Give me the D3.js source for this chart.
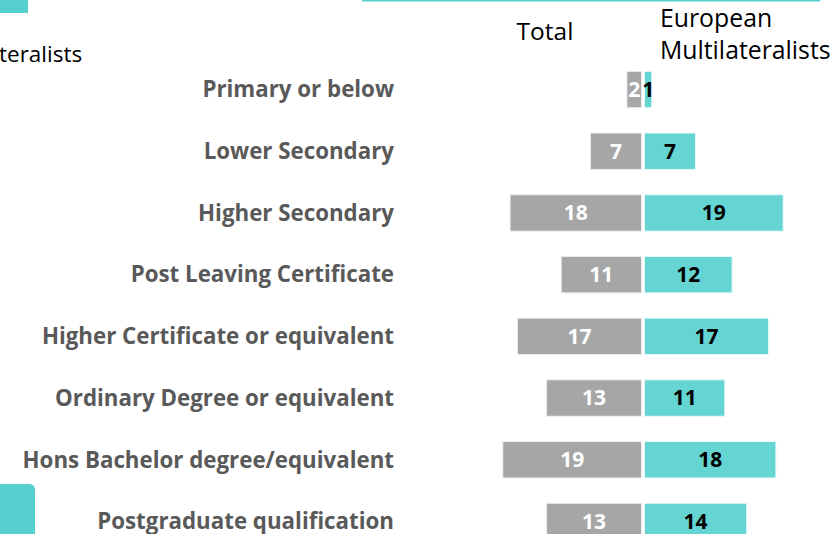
<!DOCTYPE html>
<html>
<head>
<meta charset="utf-8">
<script src="https://cdn.jsdelivr.net/npm/d3@7"></script>
<style>
  body { margin: 0; background: #fff; }
  svg { display: block; font-family: "Open Sans", Lato, sans-serif; }
</style>
</head>
<body>
<div id="chart"></div>
<script>
// Kategorien und Werte (in %)
const categories = [
  "Primary or below",
  "Lower Secondary",
  "Higher Secondary",
  "Post Leaving Certificate",
  "Higher Certificate or equivalent",
  "Ordinary Degree or equivalent",
  "Hons Bachelor degree/equivalent",
  "Postgraduate qualification"
];
const totalValues = [2, 7, 18, 11, 17, 13, 19, 13];
const euroValues = [1, 7, 19, 12, 17, 11, 18, 14];
const seriesNames = ["Total", "European Multilateralists"];

const width = 835, height = 534;
const grey = "#a6a6a6", teal = "#65d5d3";

const svg = d3.select("#chart").append("svg")
  .attr("width", width).attr("height", height);

// Reste vom Folienrand (abgeschnittene Elemente)
svg.append("rect").attr("x", -2).attr("y", -2).attr("width", 30).attr("height", 15)
  .attr("fill", "#56cfcf");
svg.append("path")
  .attr("d", "M0,484 H29 Q35,484 35,490 V540 H0 Z")
  .attr("fill", "#56cfcf");
svg.append("line").attr("x1", 362).attr("x2", 820).attr("y1", 0.5).attr("y2", 0.5)
  .attr("stroke", "#56cfcf").attr("stroke-width", 2);
svg.append("text").attr("x", -1).attr("y", 62)
  .attr("font-size", 22.5).attr("fill", "#000")
  .text("teralists");

// Skalen
const y = d3.scaleBand().domain(categories).range([59, 552]).paddingInner(0.41).paddingOuter(0.2);
const x = d3.scaleLinear().domain([0, 20]).range([0, 146]);
const mid = 643;

// Kopfzeilen
svg.append("text").attr("x", 545).attr("y", 40).attr("text-anchor", "middle")
  .attr("font-size", 24.5)
  .text(seriesNames[0]);
const head2 = svg.append("text").attr("x", 660).attr("y", 27)
  .attr("font-size", 24.8);
head2.append("tspan").attr("x", 660).text("European");
head2.append("tspan").attr("x", 660).attr("dy", 32).text("Multilateralists");

// Kategorie-Beschriftungen
svg.selectAll("text.cat").data(categories).join("text")
  .attr("class", "cat")
  .attr("x", 394)
  .attr("y", d => y(d) + y.bandwidth() / 2)
  .attr("dy", "0.35em")
  .attr("text-anchor", "end")
  .attr("font-size", 22.3).attr("font-weight", "bold").attr("fill", "#595959")
  .text(d => d);

// Balken Total (nach links)
svg.selectAll("rect.total").data(totalValues).join("rect")
  .attr("class", "total")
  .attr("x", d => mid - 1.5 - x(d))
  .attr("y", (d, i) => y(categories[i]))
  .attr("width", d => x(d))
  .attr("height", y.bandwidth())
  .attr("fill", grey).attr("stroke", "#eee").attr("stroke-width", 1);

// Balken European Multilateralists (nach rechts)
svg.selectAll("rect.euro").data(euroValues).join("rect")
  .attr("class", "euro")
  .attr("x", mid + 1.5)
  .attr("y", (d, i) => y(categories[i]))
  .attr("width", d => x(d))
  .attr("height", y.bandwidth())
  .attr("fill", teal).attr("stroke", "#e8f8f8").attr("stroke-width", 1);

// Werte
svg.selectAll("text.tv").data(totalValues).join("text")
  .attr("class", "tv")
  .attr("x", d => mid - 1.5 - x(d) / 2)
  .attr("y", (d, i) => y(categories[i]) + y.bandwidth() / 2)
  .attr("dy", "0.35em").attr("text-anchor", "middle")
  .attr("font-size", 21).attr("font-weight", "bold").attr("fill", "#fff")
  .text(d => d);

svg.selectAll("text.ev").data(euroValues).join("text")
  .attr("class", "ev")
  .attr("x", d => mid + 1.5 + Math.max(x(d) / 2, 3))
  .attr("y", (d, i) => y(categories[i]) + y.bandwidth() / 2)
  .attr("dy", "0.35em").attr("text-anchor", "middle")
  .attr("font-size", 21).attr("font-weight", "bold").attr("fill", "#000")
  .text(d => d);
</script>
</body>
</html>
